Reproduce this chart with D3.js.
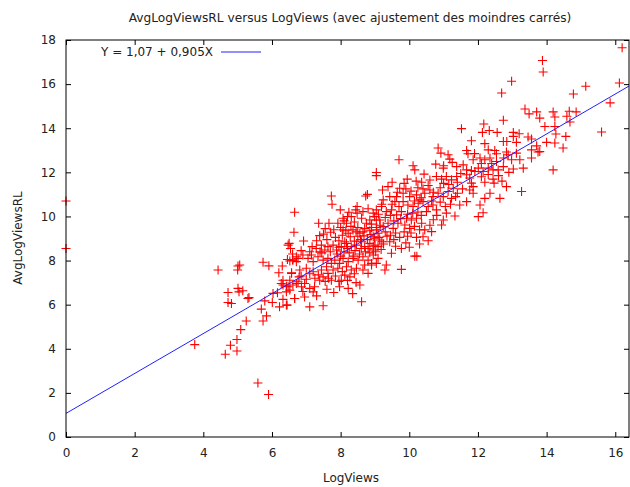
<!DOCTYPE html>
<html>
<head>
<meta charset="utf-8">
<script src="https://cdn.jsdelivr.net/npm/d3@7"></script>
<style>
  body { margin: 0; background: #fff; }
  text { font-family: "DejaVu Sans", sans-serif; fill: #222; }
</style>
</head>
<body>
<div id="chart"></div>
<script>
// tick values
const xTicks = [0, 2, 4, 6, 8, 10, 12, 14, 16];
const yTicks = [0, 2, 4, 6, 8, 10, 12, 14, 16, 18];

// least squares fit shown in the key
const fitIntercept = 1.07;
const fitSlope = 0.905;
const fitLabel = "Y = 1,07 + 0,905X";

// [LogViews, AvgLogViewsRL]
const points = [
  [0,10.7],[0,8.55],
  // low end
  [4.43,7.57],[5.01,7.75],[5.0,7.57],[5.06,7.8],[5.74,7.92],[5.91,7.76],[6.52,7.98],[6.6,8.02],[6.71,7.95],
  [6.57,7.42],[6.71,8.17],[4.72,6.55],[5.01,6.74],[5.15,6.63],[5.04,6.58],[5.3,6.28],[5.33,6.32],[4.72,6.1],
  [4.82,6.05],[5.69,5.8],[5.84,5.49],[5.74,5.26],[5.25,5.26],[5.09,4.87],[4.98,4.42],[4.79,4.16],[4.98,3.9],
  [4.64,3.75],[3.75,4.19],[5.59,2.45],[5.9,1.93],[5.79,6.17],[6.01,6.1],[6.22,5.9],[6.44,5.98],[6.32,6.24],
  [6.66,6.28],[6.03,6.51],[6.16,6.54],[6.32,6.89],[6.47,6.81],[6.52,6.66],[6.42,6.58],[6.27,6.96],[6.61,6.89],
  [6.76,7.04],[6.79,7.26],[6.52,7.11],[6.47,8.7],
  [6.3,7.75],[6.45,8.05],[6.6,8.3],[6.85,8.45],[7.1,8.4],[7.4,8.4],[6.2,7.45],
  // left part of the cloud
  [7.73,10.93],[7.75,10.55],[8.78,11.0],[8.73,10.93],[6.66,10.19],[7.99,10.3],[8.24,10.19],[8.44,10.3],
  [8.48,10.15],[8.65,10.22],[8.95,10.15],[8.99,9.99],[9.04,9.84],[7.36,9.69],[7.66,9.69],[7.92,9.69],
  [8.07,9.92],[8.17,9.69],[8.31,9.99],[8.61,9.92],[8.75,9.69],[8.85,9.84],[6.64,9.28],[7.39,9.13],[7.71,9.28],
  [8.07,9.39],[8.22,9.24],[8.36,9.39],[8.56,9.24],[6.92,8.89],[6.5,8.78],[6.54,8.55],[7.17,8.63],[7.29,8.55],
  [7.44,8.7],[7.54,8.48],[7.63,8.63],[7.78,8.7],[7.88,8.48],[8.02,8.63],[8.17,8.78],[8.31,8.63],[8.46,8.7],
  [8.61,8.85],[8.7,8.63],[8.85,8.78],[8.99,9.01],[9.09,9.24],[6.61,8.02],[6.76,8.1],[6.9,8.25],[7.05,8.1],
  [7.15,8.25],[7.2,7.95],[7.34,8.17],[7.49,8.02],[7.63,8.1],[7.73,7.87],[7.83,8.02],[7.97,7.87],[8.07,8.1],
  [8.22,7.95],[8.36,8.1],[8.51,8.02],[8.65,8.17],[8.8,8.02],[8.95,8.25],[9.09,8.1],[6.57,7.45],[6.32,7.11],
  [6.42,6.84],[6.71,6.96],[6.86,6.81],[6.95,6.96],[7.1,6.74],[7.2,6.58],[7.24,6.81],[7.39,7.11],[7.49,7.26],
  [7.44,7.57],[7.63,7.42],[7.73,7.11],[7.97,6.81],[8.22,6.74],[8.02,7.11],[8.12,7.34],[8.27,7.26],[8.56,6.89],
  [8.8,7.42],[8.61,6.13],[6.42,5.98],[6.66,6.28],[6.95,6.35],[7.1,5.9],[7.49,5.95],[6.81,7.57],[7.0,7.65],
  [7.2,7.49],[7.59,7.72],[7.78,7.57],[7.92,7.65],[8.17,7.72],[8.31,7.57],[8.46,7.65],[8.65,7.57],[8.7,7.8],
  [8.9,7.8],[9.04,7.87],[8.48,10.45],
  [6.85,7.3],[7.0,7.15],[7.1,7.4],[7.25,7.2],[7.35,7.35],[7.55,7.05],[7.65,7.2],[7.85,7.3],[7.95,7.05],
  [8.05,7.5],[8.2,7.1],[8.4,7.4],[8.45,7.0],[6.9,6.6],[7.3,6.4],[7.6,6.7],[7.8,6.55],[8.35,6.5],
  // dense core
  [7.85,9.05],[7.95,8.9],[8.05,9.15],[8.12,8.85],[8.28,9.08],[8.4,8.88],[8.5,9.1],[8.58,8.95],[8.68,9.12],
  [8.78,8.95],[8.88,9.18],[8.95,8.65],[9.12,9.05],[7.9,8.3],[8.1,8.4],[8.25,8.35],[8.42,8.45],[8.55,8.3],
  [8.72,8.4],[8.85,8.35],[9.02,8.4],[9.18,8.5],[8.0,9.5],[8.3,9.55],[8.5,9.5],[8.7,9.45],[8.9,9.5],[9.15,9.6],
  [7.6,8.95],[7.5,9.2],[7.3,8.9],[7.55,9.45],[7.8,9.4],
  [8.0,8.2],[8.2,8.55],[8.38,8.2],[8.6,8.55],[8.8,8.55],[9.0,8.7],[9.2,8.85],[8.15,9.35],[8.45,9.3],
  [8.65,9.3],[8.85,9.35],[9.05,9.5],[8.1,9.8],[8.4,9.75],[8.9,9.65],[9.1,10.1],[8.2,10.0],[8.8,10.35],
  [7.7,8.4],[7.45,8.35],[7.95,8.6],[9.3,9.3],[9.45,9.15],[9.2,10.55],[9.5,10.55],[9.7,10.45],
  [9.25,8.75],[9.35,9.1],[9.55,8.95],[9.6,9.25],[9.72,9.05],[9.85,9.3],[9.95,9.1],[10.05,9.25],[10.15,9.55],
  [10.3,9.4],[9.3,9.95],[9.45,10.05],[9.55,9.8],[9.75,9.9],[9.95,10.1],[10.1,10.15],[10.25,10.2],[10.35,10.05],
  [9.6,8.65],[9.9,8.8],[10.0,8.6],[10.3,8.75],[10.55,8.9],[10.6,9.6],[10.7,9.85],[10.8,10.05],
  // middle of the cloud
  [10.84,13.1],[10.92,12.87],[11.13,12.8],[11.18,12.6],[9.7,12.57],[9.04,11.99],[9.04,11.85],[10.11,12.3],
  [10.16,12.11],[10.43,11.92],[9.94,11.69],[10.36,11.55],[10.77,12.37],[10.99,12.19],[11.38,12.26],
  [10.79,11.81],[10.94,11.69],[11.08,11.81],[11.23,11.66],[11.38,11.81],[9.22,11.2],[9.38,11.35],[9.72,11.28],
  [9.82,11.05],[10.01,10.9],[10.21,10.98],[10.31,10.75],[10.45,11.05],[10.6,11.2],[10.69,10.9],[10.84,11.05],
  [10.99,10.9],[11.13,11.13],[11.28,11.28],[9.24,10.75],[9.43,10.9],[9.58,10.67],[9.63,10.9],[9.82,10.67],
  [9.96,10.52],[10.11,10.45],[10.26,10.6],[10.4,10.67],[10.55,10.45],[10.69,10.52],[9.04,10.3],[9.19,10.45],
  [9.33,10.22],[9.48,10.3],[9.63,10.07],[9.77,10.22],[9.92,9.92],[10.06,9.84],[10.21,9.92],[10.36,9.69],
  [10.45,9.39],[10.21,9.05],[10.4,9.08],[10.65,9.31],[10.01,9.46],[9.87,9.61],[9.14,9.84],[9.04,9.39],
  [9.24,9.54],[9.38,9.69],[9.53,9.46],[9.67,9.69],[8.95,9.08],[9.14,8.93],[9.43,8.85],[9.77,8.55],[9.48,8.33],
  [9.09,8.63],[8.95,8.48],[10.16,8.2],[10.22,8.2],[10.99,9.84],[10.94,9.61],[11.08,10.15],[11.33,10.02],
  [9.33,7.8],[9.29,7.57],[9.77,7.6],[8.9,7.87],[11.23,10.82],[10.5,10.22],[10.79,10.3],
  [9.65,11.1],[9.9,11.25],[10.05,11.15],[10.25,11.3],[10.4,11.25],[10.55,11.4],[10.7,11.1],[10.9,11.3],
  [11.0,11.5],[11.15,11.45],[10.15,10.7],[10.35,10.85],[10.65,10.7],[10.9,10.65],[11.05,10.45],[11.2,10.55],
  [11.35,10.9],[11.4,11.05],[9.5,11.55],[9.85,11.5],[10.2,11.6],[10.6,11.65],
  // upper right
  [12.98,16.13],[12.69,15.6],[13.37,14.87],[13.49,14.65],[13.71,14.74],[13.8,14.46],[14.19,14.74],[14.24,14.51],
  [12.74,14.36],[12.17,14.19],[12.33,13.9],[11.52,13.98],[12.13,13.81],[12.56,13.81],[13.95,14.08],[14.24,14.08],
  [13.03,13.81],[13.2,13.75],[13.03,13.63],[11.81,13.43],[12.74,13.4],[12.84,13.4],[13.12,13.36],[13.46,13.6],
  [13.56,13.51],[13.71,13.2],[14.0,13.36],[14.24,13.33],[11.67,12.99],[11.71,12.84],[12.3,13.02],[12.49,12.99],
  [12.54,12.84],[12.83,12.92],[12.88,12.8],[13.12,12.87],[13.56,13.02],[13.75,12.92],[13.56,12.65],[11.86,12.57],
  [12.06,12.65],[12.2,12.57],[12.35,12.65],[12.54,12.49],[12.98,12.57],[13.22,12.57],[11.57,12.34],[11.67,12.11],
  [11.81,12.08],[11.91,12.04],[12.01,12.19],[12.15,12.04],[12.3,12.19],[12.44,12.11],[12.59,12.11],[12.74,12.26],
  [13.03,12.15],[13.32,12.19],[11.67,11.89],[11.76,11.74],[11.81,11.51],[11.86,11.35],[11.76,11.2],[11.86,11.05],
  [12.44,11.69],[12.47,11.51],[12.83,11.35],[13.27,11.13],[14.19,12.11],[11.47,10.52],[11.67,10.67],[12.06,10.52],
  [12.2,10.82],[12.35,11.05],[12.64,10.82],[12.15,10.17],[12.01,9.99],
  [11.4,11.55],[11.5,11.95],[11.55,11.25],[12.1,11.8],[12.2,11.55],[12.3,11.9],[12.6,11.85],[12.7,11.6],
  [12.9,12.0],[12.1,12.4],[12.4,12.4],[12.75,12.65],[11.9,12.85],[12.2,13.3],[11.0,12.3],[11.25,12.45],
  [16.2,17.65],[13.88,17.07],[13.9,16.55],[16.12,16.05],[15.14,15.9],[14.78,15.55],[15.85,15.15],[14.66,14.77],
  [14.86,14.74],[14.59,14.54],[14.68,14.28],[14.27,13.74],[14.56,13.63],[15.6,13.83],[14.48,13.1],[13.8,12.94]
];

const width = 630, height = 487;
const plot = { left: 66, right: 629, top: 40, bottom: 437 };

const svg = d3.select("#chart").append("svg")
  .attr("width", width)
  .attr("height", height);

const xScale = d3.scaleLinear().domain([0, 16.4]).range([plot.left, plot.right]);
const yScale = d3.scaleLinear().domain([0, 18]).range([plot.bottom, plot.top]);

// points
const arm = 4.5;
svg.append("g").selectAll("path")
  .data(points)
  .enter()
  .append("path")
    .attr("d", function(d) {
      const x = xScale(d[0]), y = yScale(d[1]);
      return `M${x - arm},${y}H${x + arm}M${x},${y - arm}V${y + arm}`;
    })
    .attr("stroke", "#ff0000")
    .attr("stroke-width", 1.1)
    .attr("fill", "none");

// fit line across the whole x range
const xMax = xScale.domain()[1];
svg.append("line")
  .attr("x1", xScale(0)).attr("y1", yScale(fitIntercept))
  .attr("x2", xScale(xMax)).attr("y2", yScale(fitIntercept + fitSlope * xMax))
  .attr("stroke", "#2020ff")
  .attr("stroke-width", 1);

// axes, ticks pointing inward, mirrored on top and right
const tickLen = 5;
const xAxis = svg.append("g")
  .attr("transform", `translate(0,${plot.bottom})`)
  .call(d3.axisBottom(xScale).tickValues(xTicks).tickSize(0).tickPadding(11));
const xTop = svg.append("g")
  .attr("transform", `translate(0,${plot.top})`)
  .call(d3.axisTop(xScale).tickValues(xTicks).tickSize(-tickLen).tickFormat(""));
const yAxis = svg.append("g")
  .attr("transform", `translate(${plot.left},0)`)
  .call(d3.axisLeft(yScale).tickValues(yTicks).tickSize(0).tickPadding(10));
const yRight = svg.append("g")
  .attr("transform", `translate(${plot.right},0)`)
  .call(d3.axisRight(yScale).tickValues(yTicks).tickSize(-tickLen).tickFormat(""));

svg.selectAll(".domain").remove();

// inward ticks on bottom and left
xAxis.selectAll(".tick").append("line").attr("y2", -tickLen);
yAxis.selectAll(".tick").append("line").attr("x2", tickLen);

svg.selectAll(".tick line").attr("stroke", "#000").attr("stroke-width", 1);
svg.selectAll(".tick text")
  .style("font-size", "12px")
  .style("font-family", "'DejaVu Sans', sans-serif")
  .attr("fill", "#222");

svg.append("rect")
  .attr("x", plot.left).attr("y", plot.top)
  .attr("width", plot.right - plot.left)
  .attr("height", plot.bottom - plot.top)
  .attr("fill", "none")
  .attr("stroke", "#000")
  .attr("stroke-width", 1);

// titles
svg.append("text")
  .attr("x", 350).attr("y", 22)
  .attr("text-anchor", "middle")
  .style("font-size", "12.2px")
  .text("AvgLogViewsRL versus LogViews (avec ajustement des moindres carrés)");

svg.append("text")
  .attr("x", 351).attr("y", 482)
  .attr("text-anchor", "middle")
  .style("font-size", "12px")
  .text("LogViews");

svg.append("text")
  .attr("transform", "translate(22,238) rotate(-90)")
  .attr("text-anchor", "middle")
  .style("font-size", "12px")
  .text("AvgLogViewsRL");

// key
svg.append("text")
  .attr("x", 213).attr("y", 56)
  .attr("text-anchor", "end")
  .style("font-size", "12px")
  .text(fitLabel);

svg.append("line")
  .attr("x1", 221).attr("x2", 261)
  .attr("y1", 52).attr("y2", 52)
  .attr("stroke", "#2020ff")
  .attr("stroke-width", 1);
</script>
</body>
</html>
